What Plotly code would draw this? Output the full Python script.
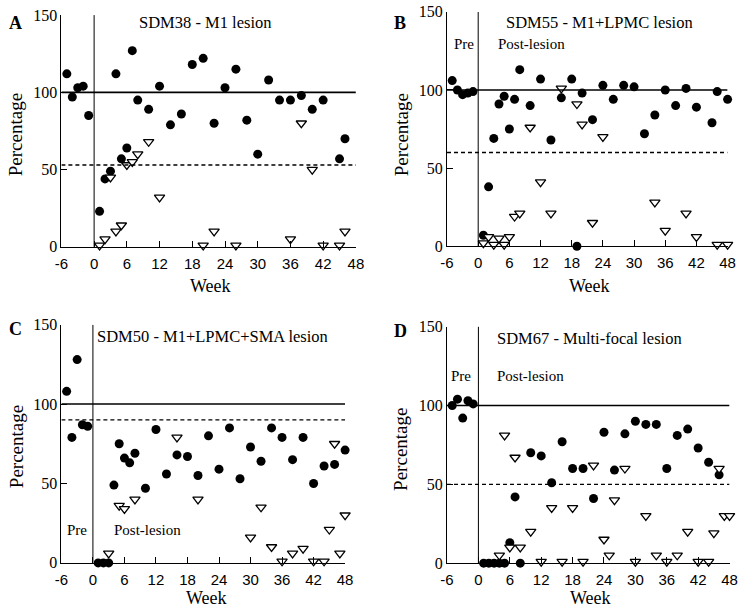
import plotly.graph_objects as go

W, H = 750, 613

# ---------------- data ----------------
weeks_ticks = [-6, 0, 6, 12, 18, 24, 30, 36, 42, 48]
pct_ticks = [0, 50, 100, 150]

titles = ["SDM38 - M1 lesion", "SDM55 - M1+LPMC lesion",
          "SDM50 - M1+LPMC+SMA lesion", "SDM67 - Multi-focal lesion"]
panel_letters = ["A", "B", "C", "D"]
baseline = [100, 100, 100, 100]
threshold = [53, 60, 90, 50]

A_circ_wk = [-5, -4, -3, -2, -1, 1, 2, 3, 4, 5, 6, 7, 8, 10, 12, 14, 16, 18, 20, 22, 24, 26, 28, 30, 32, 34, 36, 38, 40, 42, 45, 46]
A_circ_val = [112, 97, 103, 104, 85, 23, 44, 49, 112, 57, 64, 127, 95, 89, 104, 79, 86, 118, 122, 80, 103, 115, 82, 60, 108, 95, 95, 98, 89, 95, 57, 70]
A_tri_wk = [1, 2, 3, 4, 5, 6, 7, 8, 10, 12, 20, 22, 26, 36, 38, 40, 42, 45, 46]
A_tri_val = [1, 5, 45, 10, 14, 53, 55, 60, 68, 32, 1, 10, 1, 5, 80, 50, 1, 1, 10]

B_circ_wk = [-5, -4, -3, -2, -1, 1, 2, 3, 4, 5, 6, 7, 8, 10, 12, 14, 16, 18, 19, 20, 22, 24, 26, 28, 30, 32, 34, 36, 38, 40, 42, 45, 46, 48]
B_circ_val = [106, 100, 97, 98, 99, 7, 38, 69, 91, 96, 75, 94, 113, 90, 107, 68, 95, 107, 0, 98, 81, 103, 94, 103, 102, 72, 84, 100, 90, 101, 89, 79, 99, 94]
B_tri_wk = [1, 2, 3, 4, 5, 6, 7, 8, 10, 12, 14, 16, 19, 20, 22, 24, 34, 36, 40, 42, 46, 48]
B_tri_val = [2, 6, 1, 5, 1, 6, 19, 21, 76, 41, 21, 101, 91, 78, 15, 70, 28, 10, 21, 6, 1, 1]

C_circ_wk = [-5, -4, -3, -2, -1, 1, 2, 3, 4, 5, 6, 7, 8, 10, 12, 14, 16, 18, 20, 22, 24, 26, 28, 30, 32, 34, 36, 38, 40, 42, 44, 46, 48]
C_circ_val = [108, 79, 128, 87, 86, 0, 0, 0, 49, 75, 66, 63, 69, 47, 84, 56, 68, 67, 55, 80, 59, 85, 53, 73, 64, 85, 79, 65, 79, 50, 61, 62, 71]
C_tri_wk = [3, 5, 6, 8, 16, 20, 30, 32, 34, 36, 38, 40, 42, 44, 45, 46, 47, 48]
C_tri_val = [6, 36, 34, 40, 79, 40, 16, 35, 10, 1, 6, 9, 1, 1, 21, 75, 6, 30]

D_circ_wk = [-5, -4, -3, -2, -1, 1, 2, 3, 4, 5, 6, 7, 8, 10, 12, 14, 16, 18, 20, 22, 24, 26, 28, 30, 32, 34, 36, 38, 40, 42, 44, 46]
D_circ_val = [100, 104, 92, 103, 101, 0, 0, 0, 0, 0, 13, 42, 0, 70, 68, 51, 77, 60, 60, 41, 83, 59, 82, 90, 88, 88, 60, 81, 85, 73, 64, 56]
D_tri_wk = [4, 5, 6, 7, 8, 10, 12, 14, 16, 18, 20, 22, 24, 25, 26, 28, 30, 32, 34, 36, 38, 40, 42, 44, 45, 46, 47, 48]
D_tri_val = [5, 81, 10, 67, 10, 20, 1, 35, 1, 35, 1, 62, 15, 5, 40, 60, 1, 30, 5, 1, 5, 20, 1, 1, 19, 60, 30, 30]

circ_wk = [A_circ_wk, B_circ_wk, C_circ_wk, D_circ_wk]
circ_val = [A_circ_val, B_circ_val, C_circ_val, D_circ_val]
tri_wk = [A_tri_wk, B_tri_wk, C_tri_wk, D_tri_wk]
tri_val = [A_tri_val, B_tri_val, C_tri_val, D_tri_val]
show_prepost = [False, True, True, True]

# ---------------- layout (pixel boxes of plot areas) ----------------
# (left, right, top, bottom) in px
boxes = [(55.5, 356, 7.3, 245.7),
         (449, 735.3, 4, 245),
         (55.5, 345, 325.7, 570.7),
         (449, 737.3, 327.7, 571)]

SERIF = "Liberation Serif, Times New Roman, serif"
SANS = "Liberation Sans, Arial, sans-serif"

fig = go.Figure()
layout = dict(width=W, height=H, margin=dict(l=0, r=0, t=0, b=0),
              paper_bgcolor="white", plot_bgcolor="white", showlegend=False)
shapes = []
annotations = []


def px(x):
    return x / W


def py(y):
    return 1 - y / H


for i in range(4):
    l, r, t, b = boxes[i]
    sfx = "" if i == 0 else str(i + 1)
    xa, ya = "x" + sfx, "y" + sfx
    layout["xaxis" + sfx] = dict(
        domain=[px(l), px(r)], range=[-6, 48], anchor=ya,
        tickvals=weeks_ticks, ticktext=[str(v) for v in weeks_ticks],
        ticks="inside", ticklen=6, tickwidth=1, tickcolor="black",
        ticklabelstandoff=3,
        showline=True, linecolor="black", linewidth=1,
        showgrid=False, zeroline=False,
        tickfont=dict(family=SANS, size=15, color="black"))
    layout["yaxis" + sfx] = dict(
        domain=[py(b), py(t)], range=[0, 150], anchor=xa,
        tickvals=pct_ticks, ticks="inside", ticklen=6, tickwidth=1, tickcolor="black",
        showline=True, linecolor="black", linewidth=1,
        showgrid=False, zeroline=False,
        tickfont=dict(family=SERIF, size=16, color="black"))

    # reference lines
    shapes.append(dict(type="line", xref=xa, yref=ya, x0=-6, x1=48,
                       y0=baseline[i], y1=baseline[i], line=dict(color="black", width=1.6)))
    shapes.append(dict(type="line", xref=xa, yref=ya, x0=-6, x1=48,
                       y0=threshold[i], y1=threshold[i],
                       line=dict(color="black", width=1.3, dash="4px,3px")))
    shapes.append(dict(type="line", xref=xa, yref=ya, x0=0, x1=0,
                       y0=0, y1=150, line=dict(color="black", width=1)))

    fig.add_trace(go.Scatter(x=circ_wk[i], y=circ_val[i], mode="markers", xaxis=xa, yaxis=ya,
                             cliponaxis=False,
                             marker=dict(symbol="circle", size=9, color="black",
                                         line=dict(width=0))))
    fig.add_trace(go.Scatter(x=tri_wk[i], y=tri_val[i], mode="markers", xaxis=xa, yaxis=ya,
                             cliponaxis=False,
                             marker=dict(symbol="triangle-down", size=9, color="white",
                                         line=dict(width=1.3, color="black"))))

# titles
title_pos = [(202.5, 15), (605, 15), (209.5, 338), (594, 340)]
for (x, y), txt in zip(title_pos, titles):
    annotations.append(dict(text=txt, x=px(x), y=py(y), xref="paper", yref="paper",
                            showarrow=False, xanchor="center", yanchor="middle",
                            font=dict(family=SERIF, size=16.5, color="black")))

# panel letters
letter_pos = [(8.5, 15), (401, 15), (9, 330), (401.7, 331.7)]
for (x, y), txt in zip(letter_pos, panel_letters):
    annotations.append(dict(text="<b>" + txt + "</b>", x=px(x), y=py(y), xref="paper", yref="paper",
                            showarrow=False, xanchor="center", yanchor="middle",
                            font=dict(family=SERIF, size=18, color="black")))

# axis titles
perc_pos = [(9, 130), (402, 130), (9.2, 451.7), (401.7, 453.8)]
week_pos = [(207.5, 286), (594, 286), (203.7, 606.5), (595.8, 606.5)]
for (x, y) in perc_pos:
    annotations.append(dict(text="Percentage", x=px(x), y=py(y), xref="paper", yref="paper",
                            showarrow=False, textangle=-90, xanchor="center", yanchor="middle",
                            font=dict(family=SERIF, size=19, color="black")))
for (x, y) in week_pos:
    annotations.append(dict(text="Week", x=px(x), y=py(y), xref="paper", yref="paper",
                            showarrow=False, xanchor="center", yanchor="middle",
                            font=dict(family=SERIF, size=18, color="black")))

# Pre / Post-lesion labels
pre_pos = [None, (466.7, 37), (71.7, 537.3), (463.3, 378.3)]
post_pos = [None, (535.5, 37), (143, 537), (534.5, 378)]
for i in range(4):
    if not show_prepost[i]:
        continue
    for txt, (x, y) in (("Pre", pre_pos[i]), ("Post-lesion", post_pos[i])):
        annotations.append(dict(text=txt, x=px(x), y=py(y), xref="paper", yref="paper",
                                showarrow=False, xanchor="center", yanchor="middle",
                                font=dict(family=SERIF, size=15, color="black")))

layout["shapes"] = shapes
layout["annotations"] = annotations
fig.update_layout(**layout)

fig.write_html("out.html", config={"displayModeBar": False},
               post_script="document.body.style.margin='0';")
